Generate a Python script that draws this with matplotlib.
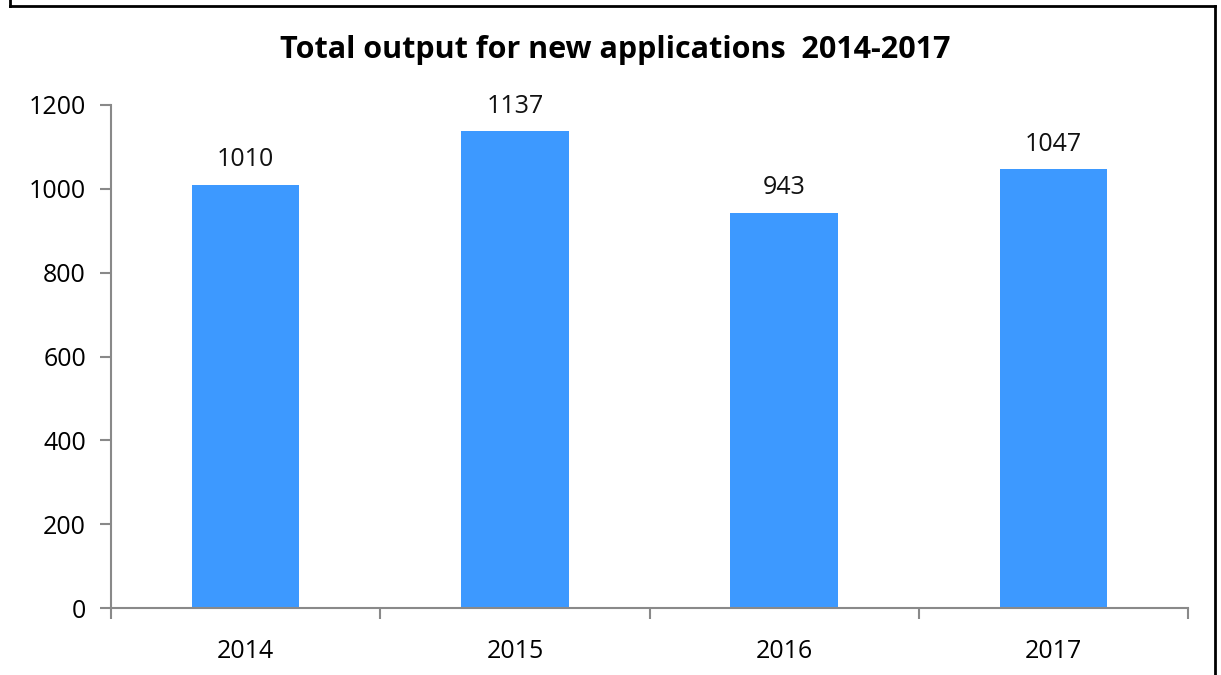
import matplotlib.pyplot as plt
from matplotlib.lines import Line2D

years = ["2014", "2015", "2016", "2017"]
output = [1010, 1137, 943, 1047]
y_ticks = [0, 200, 400, 600, 800, 1000, 1200]

plt.rcParams['font.family'] = ['Open Sans', 'DejaVu Sans']

fig = plt.figure(figsize=(12.21, 6.75), dpi=100)
ax = fig.add_axes([111 / 1221, 1 - 608 / 675, (1188 - 111) / 1221, (608 - 105) / 675])

x = list(range(len(years)))
ax.bar(x, output, width=0.4, color="#3D99FF")
for xi, v in zip(x, output):
    ax.text(xi, v + 30, str(v), ha="center", va="bottom", fontsize=18, color="#111111")

ax.set_xlim(-0.5, len(years) - 0.5)
ax.set_ylim(0, 1200)
ax.set_yticks(y_ticks)
ax.set_yticklabels([str(t) for t in y_ticks], fontsize=18)

# category labels centred, ticks at the boundaries
ax.set_xticks(x)
ax.set_xticklabels(years, fontsize=18)
ax.tick_params(axis="x", length=0, pad=22)
ax.set_xticks([i - 0.5 for i in range(len(years) + 1)], minor=True)
ax.tick_params(axis="x", which="minor", length=8, width=1.5, color="#898989", direction="out")
ax.tick_params(axis="y", length=8, width=1.5, color="#898989", direction="out", pad=10)

for side in ["top", "right"]:
    ax.spines[side].set_visible(False)
for side in ["left", "bottom"]:
    ax.spines[side].set_color("#898989")
    ax.spines[side].set_linewidth(1.5)

fig.text(615 / 1221, 1 - 50 / 675, "Total output for new applications  2014-2017",
         ha="center", va="center", fontsize=22, fontweight="bold")

# outer frame (bottom edge falls outside the picture)
for xs, ys in [([10, 10], [0, 6]), ([10, 1215], [6, 6]), ([1215, 1215], [6, 675])]:
    fig.add_artist(Line2D([v / 1221 for v in xs], [1 - v / 675 for v in ys],
                          color="black", linewidth=2))

fig.savefig("out.png", dpi=100)
